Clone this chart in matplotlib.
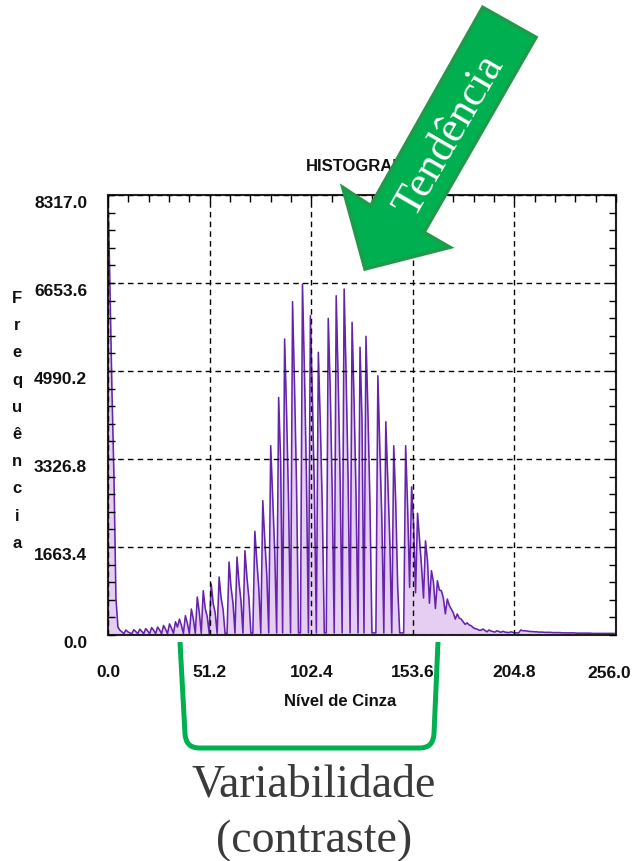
import numpy as np
import matplotlib
matplotlib.use("Agg")
import matplotlib.pyplot as plt
from matplotlib.patches import Polygon, PathPatch
from matplotlib.path import Path
from matplotlib.ticker import MultipleLocator

plt.rcParams['font.family'] = ['Liberation Sans', 'DejaVu Sans']

# histogram: first bins, then the comb of spikes, then the tail
head_counts = [8317, 6550, 4600, 3000, 700, 150]

peak_bin = [6, 9, 13, 16, 19, 22, 25, 28, 31, 34,
            36, 39, 42, 45, 48, 52, 56, 61, 65, 69,
            74, 78, 82, 86, 89, 93, 98, 102, 106, 111,
            115, 119, 123, 127, 130, 136, 140, 144, 150, 153,
            156, 160, 163, 166, 168, 171, 173, 176, 178, 181,
            183, 186, 189, 192, 196, 199, 203, 208]
peak_top = [90, 95, 100, 110, 120, 140, 150, 180, 210, 250,
            300, 365, 491, 718, 837, 964, 1096, 1380, 1474, 1593,
            1960, 2539, 3578, 4490, 5594, 6300, 6634, 6035, 5343, 5985,
            6413, 6540, 5910, 5437, 5645, 4900, 4031, 3578, 3578, 2800,
            2300, 1780, 1215, 1026, 837, 680, 491, 397, 300, 230,
            176, 113, 113, 95, 80, 70, 60, 95]
peak_second = [60, 60, 65, 70, 75, 90, 95, 110, 130, 150,
               180, 220, 300, 430, 500, 600, 700, 900, 1000, 1100,
               1400, 1800, 2600, 3300, 4200, 4700, 4965, 4490, 3990, 4620,
               4807, 4900, 4430, 4082, 4200, 3500, 2900, 2500, 2400, 2100,
               1800, 1400, 1000, 850, 700, 560, 420, 320, 250, 190,
               140, 90, 85, 75, 65, 55, 50, 80]
peak_mid = [40, 40, 45, 50, 55, 60, 65, 75, 90, 100,
            120, 150, 200, 300, 350, 420, 480, 600, 650, 700,
            880, 1150, 1600, 2000, 2500, 2850, 3000, 2700, 2400, 2700,
            2900, 2950, 2650, 2450, 2500, 2200, 1800, 900, 1700, 1500,
            1300, 1100, 850, 750, 620, 500, 380, 300, 220, 170,
            130, 80, 75, 65, 60, 50, 45, 70]
peak_valley = [25, 25, 25, 25, 25, 25, 25, 25, 30, 30,
               30, 30, 30, 30, 30, 30, 30, 35, 35, 35,
               35, 40, 40, 40, 40, 40, 40, 40, 40, 40,
               40, 40, 40, 40, 40, 40, 40, 40, 900, 800,
               700, 600, 500, 450, 400, 350, 300, 250, 200, 150,
               120, 90, 60, 55, 50, 45, 40, 50]
tail_counts = [80, 75, 70, 65, 65, 60, 60, 55, 55, 55,
               50, 50, 50, 50, 45, 45, 45, 45, 45, 40,
               40, 40, 40, 40, 40, 40, 35, 35, 35, 35,
               35, 35, 35, 35, 30, 30, 30, 30, 30, 30,
               30, 30, 30, 30, 30, 30]

x_ticks = [0.0, 51.2, 102.4, 153.6, 204.8, 256.0]
y_ticks = [0.0, 1663.4, 3326.8, 4990.2, 6653.6, 8317.0]

counts = np.zeros(256)
counts[:len(head_counts)] = head_counts
tail_start = 256 - len(tail_counts)
for k, p in enumerate(peak_bin):
    nxt = peak_bin[k + 1] if k + 1 < len(peak_bin) else tail_start
    counts[p] = peak_top[k]
    counts[p + 1] = peak_second[k]
    gap = list(range(p + 2, nxt))
    for j, b in enumerate(gap):
        counts[b] = peak_mid[k] if (j == 0 and len(gap) > 1) else peak_valley[k]
counts[tail_start:] = tail_counts

W, H = 635, 862
def fx(px):
    return px / W
def fy(py):
    return 1 - py / H

fig = plt.figure(figsize=(W / 100, H / 100), dpi=100)
ax = fig.add_axes([fx(108), fy(636), (616 - 108) / W, (636 - 196) / H])

gray = np.arange(256)
ax.fill_between(gray, counts, color='#e6cdf2', lw=0, zorder=1)
ax.plot(gray, counts, color='#6424ab', lw=1.15, zorder=2)

ax.set_xlim(0, 256)
ax.set_ylim(0, 8317)
ax.set_xticks(x_ticks)
# the last label sits left of its tick, cut by the picture edge as in the original
ax.set_xticklabels([f"{v:.1f}" for v in x_ticks[:-1]] + [""])
ax.set_yticks(y_ticks)
ax.set_yticklabels([f"{v:.1f}" for v in y_ticks])
ax.xaxis.set_minor_locator(MultipleLocator(10.24))
ax.yaxis.set_minor_locator(MultipleLocator(332.68))
ax.set_axisbelow(False)
ax.grid(True, which='major', color='black', ls=(0, (4, 3)), lw=1.0)
ax.tick_params(which='both', direction='in', length=5, width=1,
               top=True, right=True, bottom=False, left=True)
ax.tick_params(axis='x', pad=21, labelsize=12.5)
ax.tick_params(axis='y', pad=15, labelsize=12.5)
for lbl in ax.get_xticklabels() + ax.get_yticklabels():
    lbl.set_fontweight('bold')
    lbl.set_color('#111111')
for lbl in ax.get_yticklabels():
    lbl.set_va('top')
for s in ax.spines.values():
    s.set_linewidth(1.5)
    s.set_color('#222222')

fig.text(fx(609), fy(666), f"{x_ticks[-1]:.1f}", ha='center', va='top',
         fontsize=12.5, fontweight='bold', color='#111111')
fig.text(fx(362), fy(167), "HISTOGRAMA", ha='center', va='center',
         fontsize=12, fontweight='bold', color='#111111')
for i, ch in enumerate("Frequência"):
    fig.text(fx(17), fy(303 + i * 27.2), ch, ha='center', va='baseline',
             fontsize=12, fontweight='bold', color='#111111')
fig.text(fx(340), fy(701), "Nível de Cinza", ha='center', va='center',
         fontsize=12, fontweight='bold', color='#111111')

# green arrow "Tendência"
arrow_px = [(482.7, 8.3), (536, 38.3), (424, 233.3), (450, 248.3),
            (365, 270), (342.7, 188.3), (370.7, 206.7)]
arrow = Polygon([(fx(a), fy(b)) for a, b in arrow_px], closed=True,
                transform=fig.transFigure, facecolor='#00b050',
                edgecolor='#1f9a4a', lw=2.5, zorder=10)
fig.add_artist(arrow)
fig.text(fx(449), fy(136), "Tendência", rotation=60, rotation_mode='anchor',
         ha='center', va='center', fontsize=31.5, color='white',
         family=['Liberation Serif', 'DejaVu Serif'], zorder=11)

# bracket "Variabilidade"
br_px = [(180, 643), (185, 735), (186, 749), (199, 749), (420, 749),
         (433, 749), (434, 735), (438, 643)]
codes = [Path.MOVETO, Path.LINETO, Path.CURVE3, Path.CURVE3, Path.LINETO,
         Path.CURVE3, Path.CURVE3, Path.LINETO]
bracket = PathPatch(Path([(fx(a), fy(b)) for a, b in br_px], codes),
                    transform=fig.transFigure, facecolor='none',
                    edgecolor='#00b050', lw=3.6, zorder=10)
fig.add_artist(bracket)
fig.text(fx(314), fy(797), "Variabilidade", ha='center', va='baseline',
         fontsize=33, color='#3a3a3a', family=['Liberation Serif', 'DejaVu Serif'])
fig.text(fx(314), fy(852), "(contraste)", ha='center', va='baseline',
         fontsize=33, color='#3a3a3a', family=['Liberation Serif', 'DejaVu Serif'])

fig.savefig("out.png", dpi=100)
